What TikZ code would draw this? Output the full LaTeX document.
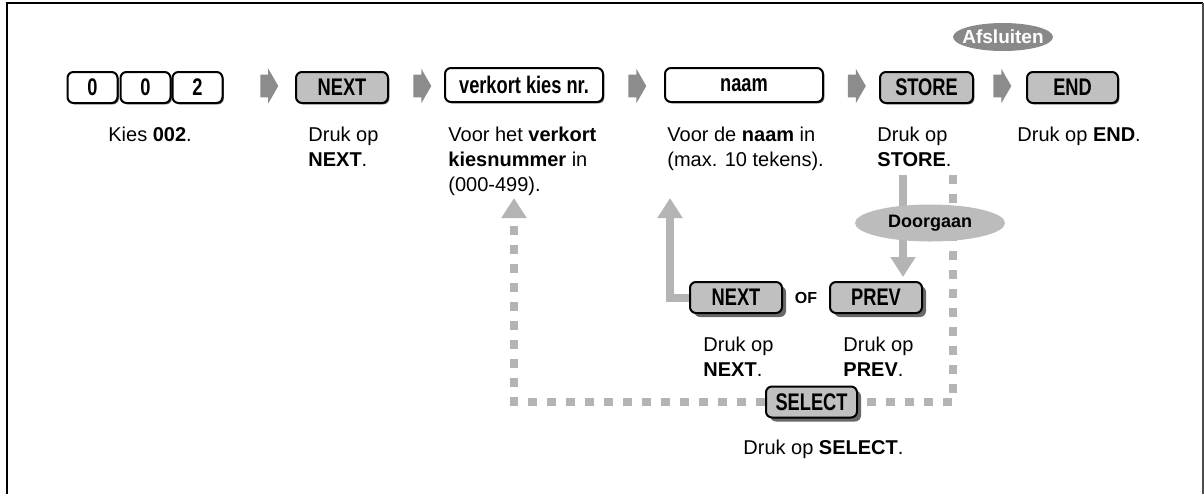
\documentclass[tikz,border=0pt]{standalone}
\usepackage{fontspec}
\setmainfont{Liberation Sans}
\newfontfamily\keyfont[FakeStretch=0.76]{Liberation Sans}
\usepackage{tikz}
\usetikzlibrary{positioning,arrows.meta,shapes.geometric,shapes.arrows,shadows}
\definecolor{keygray}{RGB}{192,192,192}
\definecolor{shadowgray}{RGB}{105,105,105}
\definecolor{arrowgray}{RGB}{140,140,140}
\definecolor{flowgray}{RGB}{180,180,180}
\definecolor{exitgray}{RGB}{137,137,137}
\definecolor{contgray}{RGB}{188,188,188}
\tikzset{
  key/.style={
    draw,
    line width=1pt,
    rounded corners=3pt,
    fill=white,
    minimum height=15.5pt,
    inner sep=0pt,
    font=\keyfont\bfseries\fontsize{12}{13}\selectfont,
    drop shadow={shadow xshift=0.7pt, shadow yshift=-0.7pt, fill=shadowgray, opacity=1}
  },
  graykey/.style={
    key,
    fill=keygray
  },
  lowkey/.style={
    draw,
    line width=1pt,
    rounded corners=3pt,
    fill=keygray,
    minimum height=15.5pt,
    minimum width=46pt,
    inner sep=0pt,
    font=\keyfont\bfseries\fontsize{12}{13}\selectfont,
    drop shadow={shadow xshift=2pt, shadow yshift=-2pt, fill=shadowgray, opacity=1}
  },
  steparrow/.style={
    single arrow,
    fill=arrowgray,
    inner xsep=0pt,
    inner ysep=5.5pt,
    minimum height=9pt,
    single arrow head extend=3pt,
    single arrow tip angle=120
  },
  note/.style={
    anchor=north west,
    inner sep=0pt,
    align=left,
    font=\fontsize{10}{12.5}\selectfont
  },
  solidflow/.style={
    draw=flowgray,
    line width=4pt,
    -{Triangle[width=12pt,length=10pt]}
  },
  dashflow/.style={
    draw=flowgray,
    line width=4pt,
    dash pattern=on 4.5pt off 5pt
  }
}

\begin{document}
\begin{tikzpicture}[x=0.5pt,y=-0.5pt]
  \useasboundingbox (0,0) rectangle (1204,494);

  % Frame
  \draw[line width=1pt] (7,494) -- (7,3) -- (1203,3);
  \draw[line width=0.6pt, black!70] (1203,3) -- (1203,494);

  % Top row keys
  \node[key, minimum width=25pt] (zeroA) at (92.5,87.5) {0};
  \node[key, minimum width=25pt] (zeroB) at (145.5,87.5) {0};
  \node[key, minimum width=25pt] (two) at (197.5,87.5) {2};
  \node[graykey, minimum width=46pt] (next) at (342,87.5) {NEXT};
  \node[key, minimum width=79pt, minimum height=17pt] (dialno) at (524,85) {verkort kies nr.};
  \node[key, minimum width=79pt, minimum height=17pt] (name) at (744,85) {naam};
  \node[graykey, minimum width=46.5pt] (store) at (926.5,87.5) {STORE};
  \node[graykey, minimum width=45.5pt] (endkey) at (1072.5,87.5) {END};

  % Step arrows
  \foreach \n/\x in {1/266, 2/419, 3/634, 4/853.5, 5/999} {
    \node[steparrow] (step\n) at (\x,86) {};
  }

  % Exit
  \node[ellipse, fill=exitgray, inner xsep=-4pt, inner ysep=0pt, minimum width=50pt, minimum height=14pt,
        text=white, font=\bfseries\fontsize{9.5}{11}\selectfont] (exit) at (1003,37) {Afsluiten};

  % Texts below keys
  \node[note] (txtkies) at (108,127) {Kies \textbf{002}.};
  \node[note] (txtnext) at (308,127) {Druk op\\\textbf{NEXT}.};
  \node[note] (txtdial) at (448,127) {Voor het \textbf{verkort}\\\textbf{kiesnummer} in\\(000-499).};
  \node[note] (txtname) at (667,127) {Voor de \textbf{naam} in\\(max. 10 tekens).};
  \node[note] (txtstore) at (877,127) {Druk op\\\textbf{STORE}.};
  \node[note] (txtend) at (1017,127) {Druk op \textbf{END}.};

  % Lower keys
  \node[lowkey] (nextlow) at (736,297.5) {NEXT};
  \node[font=\bfseries\fontsize{8}{9}\selectfont] (or) at (806,297.5) {OF};
  \node[lowkey] (prev) at (876,297.5) {PREV};
  \node[lowkey, minimum width=45.5pt] (select) at (811.5,402) {SELECT};

  \node[note] (txtnextlow) at (703,337) {Druk op\\\textbf{NEXT}.};
  \node[note] (txtprev) at (843,337) {Druk op\\\textbf{PREV}.};
  \node[note] (txtselect) at (743,440) {Druk op \textbf{SELECT}.};

  % Flow lines
  \coordinate (backtop) at (514,198);
  \coordinate (nametop) at (670,198);
  \coordinate (storedown) at (903,175);
  \coordinate (storeloop) at (953,175);

  \draw[dashflow] (storeloop) |- (select.east);
  \draw[dashflow, -{Triangle[width=12pt,length=10pt]}] (select.west) -| (backtop);
  \draw[solidflow] (nextlow.west) -| (nametop);
  \draw[solidflow, shorten >=2pt] (storedown) -- (storedown |- prev.north);

  % Continue
  \node[ellipse, fill=contgray, inner sep=0pt, minimum width=75pt, minimum height=18.5pt,
        font=\bfseries\fontsize{9}{11}\selectfont] (cont) at (930,223) {Doorgaan};

\end{tikzpicture}
\end{document}
